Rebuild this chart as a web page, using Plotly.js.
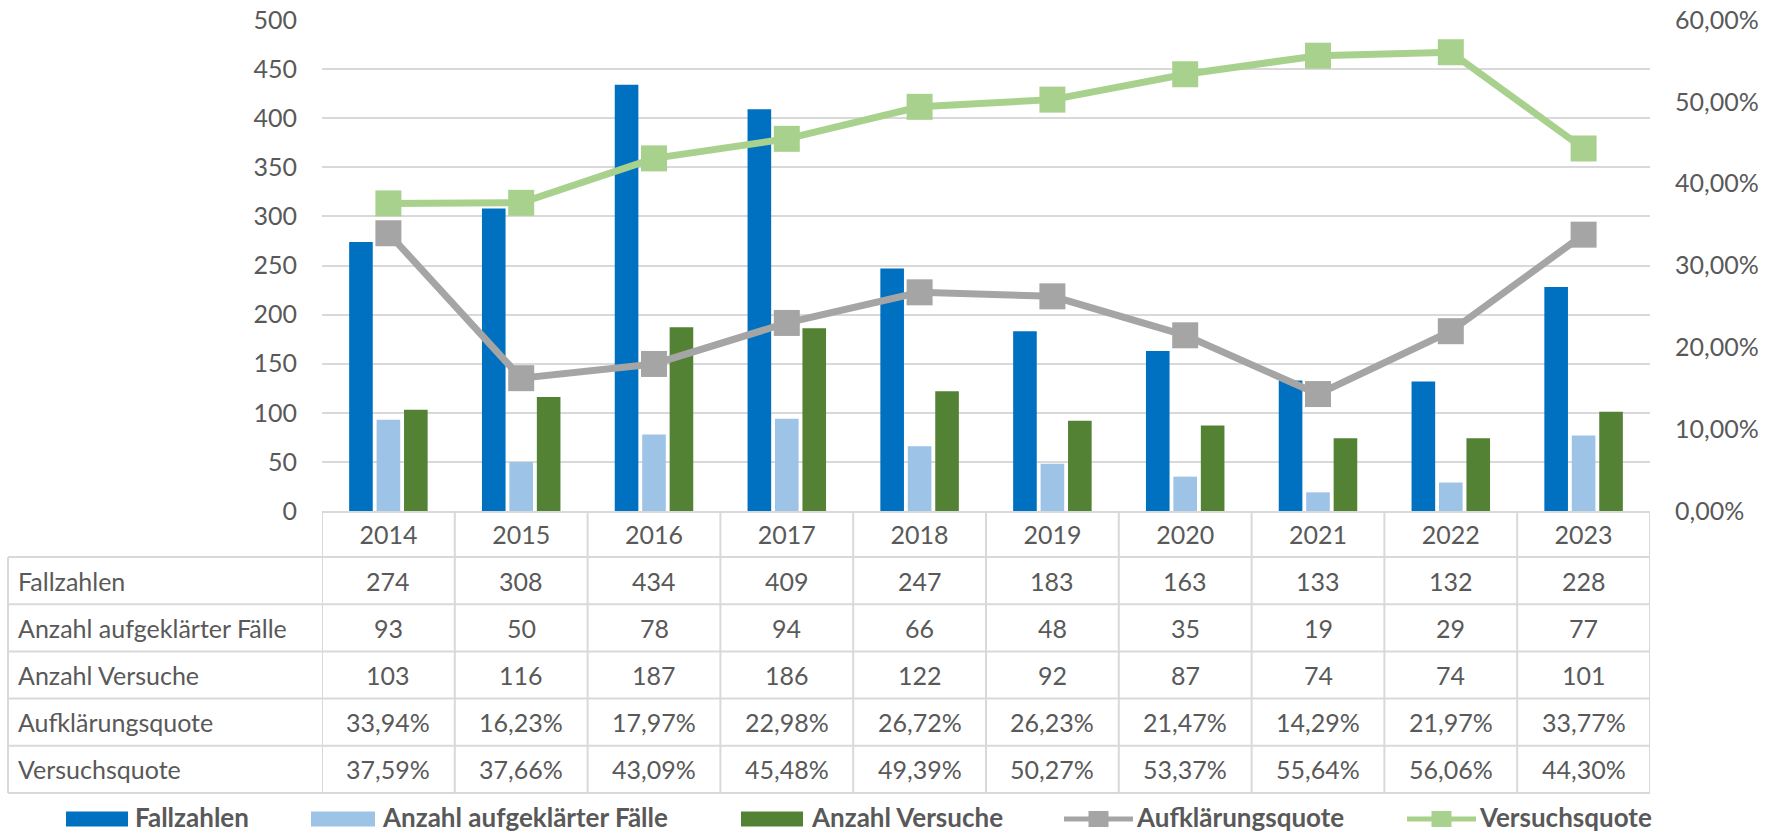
<!DOCTYPE html>
<html>
<head>
<meta charset="utf-8">
<script src="https://cdn.plot.ly/plotly-3.0.1.min.js"></script>
<style>
body {margin: 0; background: #fff;}
#chart {width: 1790px; height: 835px;}
</style>
</head>
<body>
<div id="chart"></div>
<script>
/** ------------------------- Data ------------------------ **/
let jahre = ['2014', '2015', '2016', '2017', '2018', '2019', '2020', '2021', '2022', '2023'];
let fallzahlen = [274, 308, 434, 409, 247, 183, 163, 133, 132, 228];
let aufgeklaert = [93, 50, 78, 94, 66, 48, 35, 19, 29, 77];
let versuche = [103, 116, 187, 186, 122, 92, 87, 74, 74, 101];
let aufklaerungsquote = [33.94, 16.23, 17.97, 22.98, 26.72, 26.23, 21.47, 14.29, 21.97, 33.77];
let versuchsquote = [37.59, 37.66, 43.09, 45.48, 49.39, 50.27, 53.37, 55.64, 56.06, 44.30];
let zeilen = ['Fallzahlen', 'Anzahl aufgeklärter Fälle', 'Anzahl Versuche', 'Aufklärungsquote', 'Versuchsquote'];
let ticksLinks = [0, 50, 100, 150, 200, 250, 300, 350, 400, 450, 500];
let ticksRechts = [0, 10, 20, 30, 40, 50, 60];

/** colours **/
let c_fall = '#0070C0';
let c_aufg = '#9DC3E6';
let c_vers = '#548235';
let c_aq = '#A5A5A5';
let c_vq = '#A9D18E';
let c_text = '#595959';
let c_grid = '#D9D9D9';
let fontFam = 'Lato, "Open Sans", sans-serif';

/** geometry of the plot area in pixels **/
let W = 1790, H = 835;
let pl = 322, pr = 1650, pt = 20, pb = 511;
function xp(p) { return (p - pl) / (pr - pl); }   // pixel -> paper x
function yp(p) { return (pb - p) / (pb - pt); }   // pixel -> paper y

let headBottom = 557;
let rowH = 47.2;
let tableLeft = 8;
let tableBottom = headBottom + zeilen.length * rowH;

function pct(v) { return v.toFixed(2).replace('.', ',') + '%'; }

/** ------------------------- Traces ------------------------ **/
let trace_fall = {x: jahre, y: fallzahlen, type: 'bar', name: 'Fallzahlen', marker: {color: c_fall}};
let trace_aufg = {x: jahre, y: aufgeklaert, type: 'bar', name: 'Anzahl aufgeklärter Fälle', marker: {color: c_aufg}};
let trace_vers = {x: jahre, y: versuche, type: 'bar', name: 'Anzahl Versuche', marker: {color: c_vers}};
let trace_aq = {
    x: jahre, y: aufklaerungsquote, yaxis: 'y2', type: 'scatter', mode: 'lines+markers',
    name: 'Aufklärungsquote', line: {color: c_aq, width: 7},
    marker: {symbol: 'square', size: 26, color: c_aq}
};
let trace_vq = {
    x: jahre, y: versuchsquote, yaxis: 'y2', type: 'scatter', mode: 'lines+markers',
    name: 'Versuchsquote', line: {color: c_vq, width: 7},
    marker: {symbol: 'square', size: 26, color: c_vq}
};

/** ------------------------- Table below the chart ------------------------ **/
let shapes = [];
let annotations = [];
let gridLine = {color: c_grid, width: 2};

// horizontal table lines
for (let i = 0; i <= zeilen.length; i++) {
    let y = yp(headBottom + i * rowH);
    shapes.push({type: 'line', xref: 'paper', yref: 'paper', x0: xp(tableLeft), x1: 1, y0: y, y1: y, line: gridLine});
}
// vertical lines between the years
for (let k = 0; k <= jahre.length; k++) {
    shapes.push({type: 'line', xref: 'x', yref: 'paper', x0: k - 0.5, x1: k - 0.5, y0: 0, y1: yp(tableBottom), line: gridLine});
}
// left border of the label column
shapes.push({type: 'line', xref: 'paper', yref: 'paper', x0: xp(tableLeft), x1: xp(tableLeft), y0: yp(headBottom), y1: yp(tableBottom), line: gridLine});

let zeilenWerte = [
    fallzahlen.map(String),
    aufgeklaert.map(String),
    versuche.map(String),
    aufklaerungsquote.map(pct),
    versuchsquote.map(pct)
];

for (let i = 0; i < zeilen.length; i++) {
    let yc = yp(headBottom + (i + 0.5) * rowH);
    annotations.push({
        xref: 'paper', yref: 'paper', x: xp(16), y: yc, xanchor: 'left', yanchor: 'middle',
        text: zeilen[i], showarrow: false, font: {size: 25, color: c_text}
    });
    for (let j = 0; j < jahre.length; j++) {
        // category index j (a year string would be read as a number)
        annotations.push({
            xref: 'x', yref: 'paper', x: j, y: yc, xanchor: 'center', yanchor: 'middle',
            text: zeilenWerte[i][j], showarrow: false, font: {size: 25, color: c_text}
        });
    }
}

/** ------------------------- Legend (drawn by hand) ------------------------ **/
let legY = 819;
let legTextY = 816.5;
let legend = [
    {name: 'Fallzahlen', kind: 'bar', color: c_fall, x0: 66, x1: 128, tx: 134},
    {name: 'Anzahl aufgeklärter Fälle', kind: 'bar', color: c_aufg, x0: 311, x1: 375, tx: 381},
    {name: 'Anzahl Versuche', kind: 'bar', color: c_vers, x0: 741, x1: 803, tx: 810},
    {name: 'Aufklärungsquote', kind: 'line', color: c_aq, x0: 1064, x1: 1133, tx: 1135},
    {name: 'Versuchsquote', kind: 'line', color: c_vq, x0: 1407, x1: 1476, tx: 1478}
];
legend.forEach(function (it) {
    if (it.kind === 'bar') {
        shapes.push({type: 'rect', xref: 'paper', yref: 'paper', x0: xp(it.x0), x1: xp(it.x1),
            y0: yp(legY - 7.5), y1: yp(legY + 7.5), fillcolor: it.color, line: {width: 0}});
    } else {
        let xm = (it.x0 + it.x1) / 2;
        shapes.push({type: 'line', xref: 'paper', yref: 'paper', x0: xp(it.x0), x1: xp(it.x1),
            y0: yp(legY), y1: yp(legY), line: {color: it.color, width: 5}});
        shapes.push({type: 'rect', xref: 'paper', yref: 'paper', x0: xp(xm - 10), x1: xp(xm + 10),
            y0: yp(legY - 8), y1: yp(legY + 8), fillcolor: it.color, line: {width: 0}});
    }
    annotations.push({
        xref: 'paper', yref: 'paper', x: xp(it.tx), y: yp(legTextY), xanchor: 'left', yanchor: 'middle',
        text: '<b>' + it.name + '</b>', showarrow: false, borderpad: 0,
        font: {size: 26, color: c_text}
    });
});

/** ------------------------- Layout ------------------------ **/
let layout = {
    width: W, height: H,
    margin: {l: pl, r: W - pr, t: pt, b: H - pb, pad: 0},
    paper_bgcolor: '#fff', plot_bgcolor: '#fff',
    font: {family: fontFam, color: c_text, size: 25},
    showlegend: false,
    barmode: 'group', bargap: 0.38, bargroupgap: 0.14,
    xaxis: {
        type: 'category', range: [-0.5, 9.5], showgrid: false, zeroline: false,
        showline: true, linecolor: c_grid, linewidth: 2, ticks: '',
        ticklabelstandoff: 1, tickfont: {size: 25, color: c_text}
    },
    yaxis: {
        range: [0, 500], tickvals: ticksLinks, showgrid: true, gridcolor: c_grid, gridwidth: 2,
        zeroline: false, showline: false, ticks: '', ticklabelstandoff: 24,
        tickfont: {size: 25, color: c_text}
    },
    yaxis2: {
        overlaying: 'y', side: 'right', range: [0, 60], tickvals: ticksRechts,
        ticktext: ticksRechts.map(pct), showgrid: false, zeroline: false, showline: false,
        ticks: '', ticklabelstandoff: 24, tickfont: {size: 25, color: c_text}
    },
    shapes: shapes,
    annotations: annotations
};

Plotly.newPlot('chart', [trace_fall, trace_aufg, trace_vers, trace_aq, trace_vq], layout, {displayModeBar: false, staticPlot: true});
</script>
</body>
</html>
